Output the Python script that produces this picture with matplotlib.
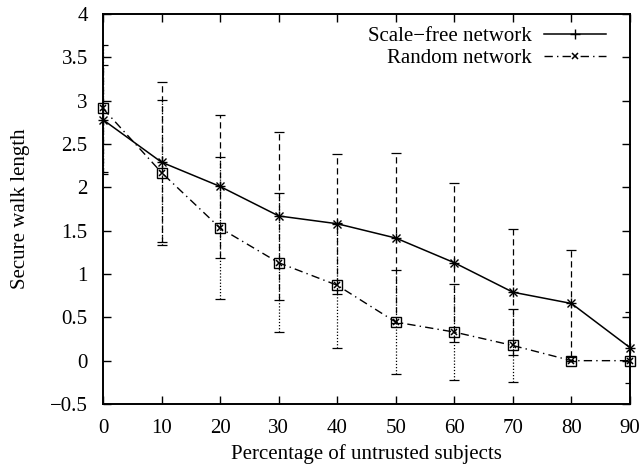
import matplotlib
matplotlib.use("Agg")
import matplotlib.pyplot as plt
from matplotlib.ticker import FuncFormatter, MultipleLocator

plt.rcParams['font.family'] = ['Liberation Serif', 'DejaVu Serif']

x = [0, 10, 20, 30, 40, 50, 60, 70, 80, 90]
scale_free = [2.78, 2.29, 2.01, 1.67, 1.58, 1.415, 1.13, 0.79, 0.66, 0.15]
scale_free_err = [0.63, 0.92, 0.82, 0.97, 0.81, 0.98, 0.92, 0.73, 0.62, 0.41]
random_net = [2.91, 2.17, 1.53, 1.13, 0.87, 0.445, 0.33, 0.175, 0.0, 0.0]
random_err = [0.73, 0.84, 0.82, 0.80, 0.72, 0.60, 0.55, 0.42, 0.0, 0.0]

xlabel = "Percentage of untrusted subjects"
ylabel = "Secure walk length"
label_sf = "Scale\u2212free network"
label_rn = "Random network"

fig = plt.figure(figsize=(6.44, 4.68), dpi=100)
ax = fig.add_axes([103/644, 64/468, 527/644, 390/468])

# error bars
eb1 = ax.errorbar(x, scale_free, yerr=scale_free_err, fmt='none', ecolor='black',
                  elinewidth=0.9, capsize=3.5, capthick=0.9)
for c in eb1[2]:
    c.set_linestyle((0, (5, 3)))
eb2 = ax.errorbar(x, random_net, yerr=random_err, fmt='none', ecolor='black',
                  elinewidth=0.9, capsize=3.5, capthick=0.9)
for c in eb2[2]:
    c.set_linestyle((0, (1, 1.5)))

# lines
ax.plot(x, scale_free, color='black', lw=1.1, marker='+', ms=7.5, mew=1.0,
        label=label_sf, clip_on=False, zorder=4)
ax.plot(x, scale_free, linestyle='none', color='black', marker='x', ms=6, mew=1.0,
        clip_on=False, zorder=4)
ax.plot(x, random_net, color='black', lw=1.0, linestyle=(0, (6, 3, 1, 3)),
        marker='x', ms=5, mew=1.1, label=label_rn, clip_on=False, zorder=4)
ax.plot(x, random_net, linestyle='none', marker='s', ms=6.5, mfc='none', mec='black',
        mew=1.0, clip_on=False, zorder=4)

ax.set_xlim(0, 90)
ax.set_ylim(-0.5, 4)
ax.xaxis.set_major_locator(MultipleLocator(10))
ax.yaxis.set_major_locator(MultipleLocator(0.5))
ax.yaxis.set_major_formatter(FuncFormatter(lambda v, p: ('%g' % v).replace('-', '\u2212')))
ax.tick_params(direction='in', length=6, width=1.0, top=True, right=True,
               labelsize=15, pad=11, colors='black')
for s in ax.spines.values():
    s.set_linewidth(1.4)

ax.set_xlabel(xlabel, fontsize=15, labelpad=4)
ax.set_ylabel(ylabel, fontsize=15, labelpad=14)

leg = ax.legend(loc='upper right', frameon=False, markerfirst=False, fontsize=15,
                handlelength=2.95, handletextpad=0.6, labelspacing=0.12,
                borderaxespad=0.2, bbox_to_anchor=(0.978, 1.0))

fig.savefig("out.png", dpi=100)
